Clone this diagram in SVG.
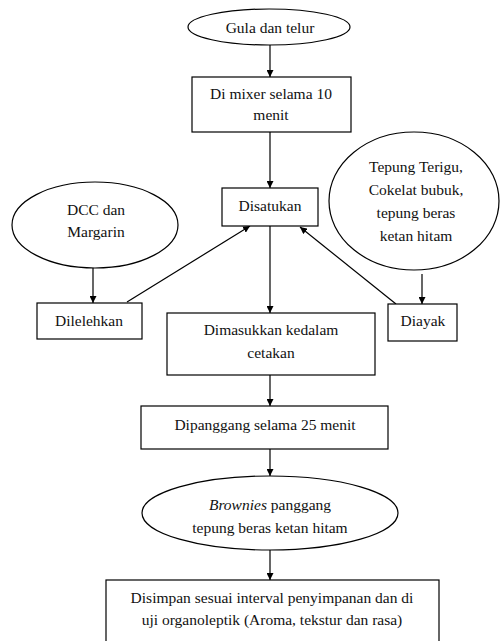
<svg xmlns="http://www.w3.org/2000/svg" width="501" height="641" viewBox="0 0 501 641">
<style>
.s{fill:#fff;stroke:#000;stroke-width:1.2}
.t{font-family:"Liberation Serif","Times New Roman",serif;font-size:15.5px;fill:#111;text-anchor:middle}
.c{stroke:#000;stroke-width:1.2;fill:none}
</style>
<defs>
<marker id="a" viewBox="0 0 10 10" refX="10" refY="5" markerWidth="7" markerHeight="7" markerUnits="userSpaceOnUse" orient="auto">
<path d="M0,0 L10,5 L0,10 z" fill="#000"/>
</marker>
</defs>
<rect width="501" height="641" fill="#fff"/>
<g id="connectors">
<line class="c" x1="270" y1="45" x2="270" y2="77" marker-end="url(#a)"/>
<line class="c" x1="270" y1="132" x2="270" y2="188" marker-end="url(#a)"/>
<line class="c" x1="93" y1="268" x2="93" y2="303" marker-end="url(#a)"/>
<line class="c" x1="127" y1="302" x2="250" y2="226" marker-end="url(#a)"/>
<line class="c" x1="422" y1="274" x2="422" y2="304" marker-end="url(#a)"/>
<line class="c" x1="396" y1="304" x2="300" y2="227" marker-end="url(#a)"/>
<line class="c" x1="270" y1="226" x2="270" y2="313" marker-end="url(#a)"/>
<line class="c" x1="270" y1="375" x2="270" y2="406" marker-end="url(#a)"/>
<line class="c" x1="270" y1="449" x2="270" y2="476" marker-end="url(#a)"/>
<line class="c" x1="270" y1="550" x2="270" y2="580" marker-end="url(#a)"/>
</g>
<g id="n1">
<ellipse class="s" cx="269" cy="27" rx="81" ry="18"/>
<text class="t" x="270" y="33">Gula dan telur</text>
</g>
<g id="n2">
<rect class="s" x="192" y="77" width="159" height="55"/>
<text class="t" x="271" y="99">Di mixer selama 10</text>
<text class="t" x="271" y="120">menit</text>
</g>
<g id="n3">
<rect class="s" x="222" y="188" width="96" height="38"/>
<text class="t" x="270" y="211">Disatukan</text>
</g>
<g id="n4">
<ellipse class="s" cx="95" cy="225" rx="83" ry="43"/>
<text class="t" x="96" y="215">DCC dan</text>
<text class="t" x="96" y="237">Margarin</text>
</g>
<g id="n5">
<rect class="s" x="37" y="303" width="105" height="36"/>
<text class="t" x="89" y="326">Dilelehkan</text>
</g>
<g id="n6">
<ellipse class="s" cx="414" cy="201" rx="85" ry="69"/>
<text class="t" x="416" y="172">Tepung Terigu,</text>
<text class="t" x="416" y="195">Cokelat bubuk,</text>
<text class="t" x="416" y="218">tepung beras</text>
<text class="t" x="416" y="241">ketan hitam</text>
</g>
<g id="n7">
<rect class="s" x="388" y="304" width="69" height="37"/>
<text class="t" x="423" y="326">Diayak</text>
</g>
<g id="n8">
<rect class="s" x="167" y="313" width="208" height="62"/>
<text class="t" x="271" y="335">Dimasukkan kedalam</text>
<text class="t" x="271" y="358">cetakan</text>
</g>
<g id="n9">
<rect class="s" x="141" y="406" width="247" height="43"/>
<text class="t" x="265" y="430">Dipanggang selama 25 menit</text>
</g>
<g id="n10">
<ellipse class="s" cx="270" cy="513" rx="128" ry="37"/>
<text class="t" x="270" y="510"><tspan font-style="italic">Brownies</tspan> panggang</text>
<text class="t" x="270" y="533">tepung beras ketan hitam</text>
</g>
<g id="n11">
<rect class="s" x="106" y="580" width="333" height="70"/>
<text class="t" x="272" y="603">Disimpan sesuai interval penyimpanan dan di</text>
<text class="t" x="272" y="625">uji organoleptik (Aroma, tekstur dan rasa)</text>
</g>
</svg>
